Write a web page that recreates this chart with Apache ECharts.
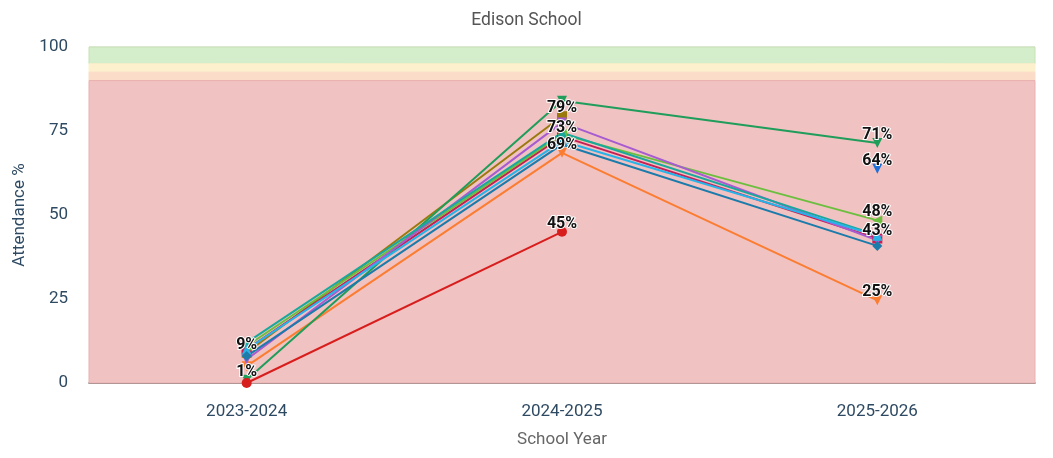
<!DOCTYPE html>
<html>
<head>
<meta charset="utf-8">
<script src="https://cdn.jsdelivr.net/npm/echarts@6/dist/echarts.min.js"></script>
<style>html,body{margin:0;padding:0;background:#fff}#c{width:1053px;height:458px}</style>
</head>
<body>
<div id="c"></div>
<script>
const categories = ['2023-2024', '2024-2025', '2025-2026'];
const yTicks = [0, 25, 50, 75, 100];
const bandLimits = [100, 95, 92.5, 90, 0];

const sBrown = [9, 79.4, null];
const sCrimson = [10, 73.4, 43];
const sOrange = [5, 68.5, 24.6];
const sGreen = [1, 84, 71.4];
const sLightGreen = [11, 74, 48.4];
const sDarkBlue = [null, null, 63.8];
const sPurple = [7, 77.5, 42.5];
const sTeal = [12, 74.5, 44];
const sCyan = [10, 72, 43.8];
const sBlue = [8, 71, 40.8];
const sRed = [0, 45, null];

const bandStyles = [
  { color: '#d4edca', borderColor: '#c8e2b4' },
  { color: '#fdf0cc', borderColor: '#fdf0cc' },
  { color: '#fbdcc8', borderColor: '#fbdcc8' },
  { color: '#f1c2c2', borderColor: '#e9b1b1' }
];

const seriesDefs = [
  { data: sBrown, color: '#9a7a0c', symbol: 'rect', rotate: 0 },
  { data: sCrimson, color: '#c61f55', symbol: 'rect', rotate: 0 },
  { data: sOrange, color: '#fb7d32', symbol: 'triangle', rotate: 180 },
  { data: sGreen, color: '#1f9d5a', symbol: 'triangle', rotate: 180 },
  { data: sLightGreen, color: '#6cbf3e', symbol: 'triangle', rotate: 90 },
  { data: sDarkBlue, color: '#1f6fd8', symbol: 'triangle', rotate: 180 },
  { data: sPurple, color: '#a65bd0', symbol: 'triangle', rotate: 180 },
  { data: sTeal, color: '#1aa89c', symbol: 'triangle', rotate: 0 },
  { data: sCyan, color: '#27b3e8', symbol: 'triangle', rotate: 0 },
  { data: sBlue, color: '#1b7bab', symbol: 'diamond', rotate: 0 },
  { data: sRed, color: '#d81d1d', symbol: 'circle', rotate: 0 }
];

const chart = echarts.init(document.getElementById('c'), null, { renderer: 'canvas' });
const bandData = [];
for (let i = 0; i < bandLimits.length - 1; i++) {
  bandData.push([{ yAxis: bandLimits[i + 1], itemStyle: { color: bandStyles[i].color, borderColor: bandStyles[i].borderColor, borderWidth: 1 } }, { yAxis: bandLimits[i] }]);
}
const series = [{
  type: 'line', name: 'bands', data: [], z: -1, silent: true,
  markArea: { silent: true, data: bandData }
}];
seriesDefs.forEach((s, i) => {
  series.push({
    type: 'line', name: 'S' + i, data: s.data,
    color: s.color, symbol: s.symbol, symbolRotate: s.rotate, symbolSize: 10,
    showAllSymbol: true, connectNulls: false,
    lineStyle: { width: 2, color: s.color },
    itemStyle: { color: s.color },
    label: {
      show: true, position: 'top', distance: -5, minMargin: -2,
      formatter: p => Math.round(p.value) + '%',
      fontFamily: 'Roboto', fontWeight: 'bold', fontSize: 16, color: '#111',
      textBorderColor: '#fff', textBorderWidth: 2
    },
    labelLayout: { hideOverlap: true },
    z: 2
  });
});

chart.setOption({
  animation: false,
  textStyle: { fontFamily: 'Roboto' },
  title: {
    text: 'Edison School', left: 'center', top: 7,
    textStyle: { fontFamily: 'Roboto', fontSize: 17.5, fontWeight: 'normal', color: '#555' }
  },
  grid: { left: 89, right: 18, top: 47, bottom: 75 },
  xAxis: {
    type: 'category', data: categories, boundaryGap: true,
    name: 'School Year', nameLocation: 'middle', nameGap: 48,
    nameTextStyle: { fontSize: 17, color: '#666' },
    axisLine: { lineStyle: { color: '#555', width: 1.5 } },
    axisTick: { show: false },
    axisLabel: { fontSize: 17, color: '#2e4a62', margin: 20 }
  },
  yAxis: {
    type: 'value', min: yTicks[0], max: yTicks[yTicks.length - 1], interval: 25,
    name: 'Attendance %', nameLocation: 'middle', nameGap: 60,
    nameTextStyle: { fontSize: 17, color: '#2e4a62' },
    axisLine: { show: false }, axisTick: { show: false },
    axisLabel: { fontSize: 17, color: '#2e4a62', margin: 21 },
    splitLine: { lineStyle: { color: '#e4e4e4', width: 1.5 } },
    z: 0
  },
  series: series
});
</script>
</body>
</html>
